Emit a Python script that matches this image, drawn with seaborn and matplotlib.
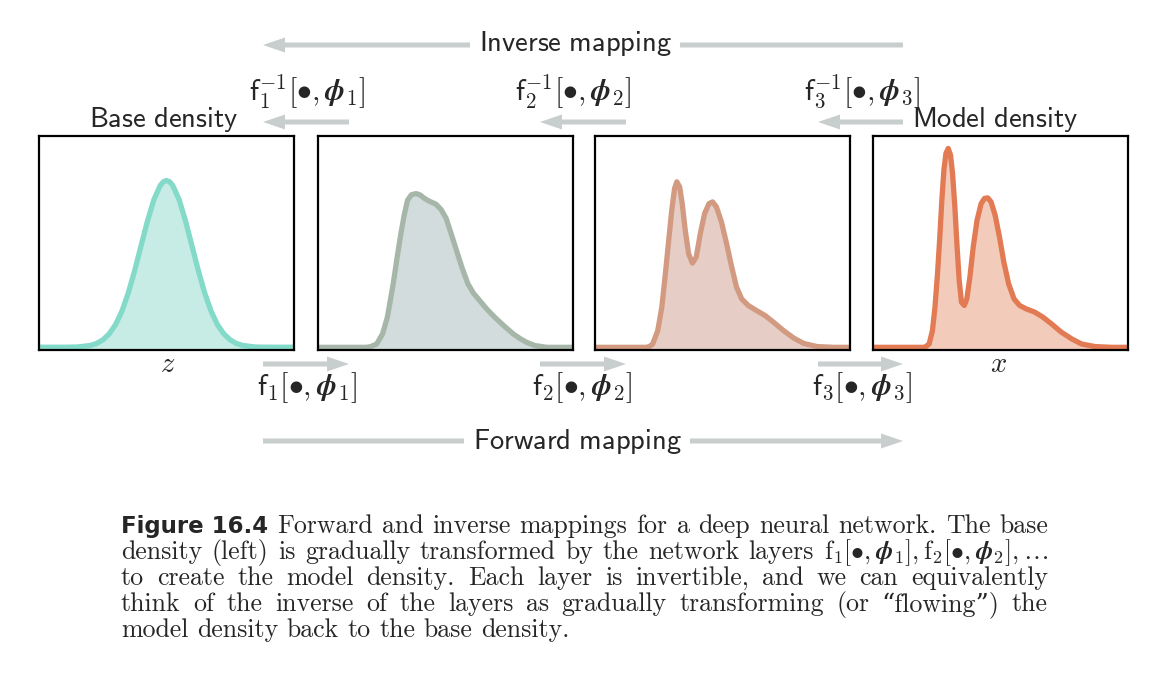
import numpy as np
import pandas as pd
import matplotlib
matplotlib.use("Agg")
import matplotlib.pyplot as plt
import seaborn as sns

# ---------------- data (panel-relative units) ----------------
base_x = [0.0, 0.1, 0.15, 0.2, 0.225, 0.25, 0.275, 0.3, 0.325, 0.35, 0.375, 0.4, 0.425, 0.45, 0.475, 0.4875,
          0.5, 0.5125, 0.525, 0.55, 0.575, 0.6, 0.625, 0.65, 0.675, 0.7, 0.725, 0.75, 0.775, 0.8, 0.85, 0.9, 1.0]
base_y = [0.013, 0.013, 0.014, 0.021, 0.030, 0.047, 0.075, 0.118, 0.181, 0.266, 0.370, 0.486, 0.601, 0.701, 0.768, 0.786,
          0.792, 0.786, 0.768, 0.701, 0.601, 0.486, 0.370, 0.266, 0.181, 0.118, 0.075, 0.047, 0.030, 0.021, 0.014, 0.013, 0.013]

layer1_x = [0.0, 0.19, 0.207, 0.23, 0.253, 0.272, 0.295, 0.31, 0.325, 0.338, 0.351, 0.366, 0.384, 0.400, 0.418,
            0.437, 0.463, 0.483, 0.503, 0.522, 0.543, 0.564, 0.588, 0.61, 0.634, 0.663, 0.693, 0.73, 0.766, 0.793,
            0.818, 0.85, 0.897, 0.95, 1.0]
layer1_y = [0.0125, 0.0125, 0.016, 0.028, 0.075, 0.153, 0.31, 0.43, 0.544, 0.63, 0.70, 0.725, 0.731, 0.725, 0.708,
            0.695, 0.681, 0.656, 0.614, 0.544, 0.466, 0.3875, 0.309, 0.265, 0.231, 0.19, 0.153, 0.112, 0.075, 0.053,
            0.036, 0.021, 0.0125, 0.0125, 0.0125]

layer2_x = [0.0, 0.2, 0.213, 0.226, 0.246, 0.262, 0.276, 0.289, 0.301, 0.312, 0.321, 0.332, 0.342, 0.354, 0.367,
            0.382, 0.397, 0.413, 0.430, 0.447, 0.461, 0.476, 0.496, 0.516, 0.536, 0.555, 0.575, 0.601, 0.634, 0.667,
            0.700, 0.739, 0.779, 0.818, 0.871, 0.937, 1.0]
layer2_y = [0.0125, 0.0125, 0.016, 0.028, 0.09, 0.20, 0.356, 0.512, 0.653, 0.755, 0.786, 0.762, 0.684, 0.559, 0.45,
            0.406, 0.434, 0.544, 0.638, 0.684, 0.692, 0.669, 0.598, 0.497, 0.388, 0.294, 0.239, 0.208, 0.184, 0.161,
            0.130, 0.091, 0.056, 0.031, 0.016, 0.0125, 0.0125]

model_x = [0.0, 0.2, 0.207, 0.220, 0.233, 0.243, 0.253, 0.262, 0.270, 0.278, 0.286, 0.295, 0.304, 0.312, 0.321,
           0.329, 0.338, 0.347, 0.358, 0.368, 0.380, 0.393, 0.408, 0.424, 0.437, 0.450, 0.463, 0.479, 0.496, 0.513,
           0.532, 0.553, 0.575, 0.601, 0.634, 0.667, 0.700, 0.739, 0.779, 0.818, 0.871, 0.937, 1.0]
model_y = [0.0125, 0.0125, 0.016, 0.028, 0.09, 0.20, 0.356, 0.528, 0.70, 0.841, 0.919, 0.942, 0.911, 0.825, 0.669,
           0.497, 0.325, 0.223, 0.208, 0.239, 0.341, 0.481, 0.606, 0.684, 0.708, 0.711, 0.692, 0.630, 0.528, 0.411,
           0.309, 0.239, 0.208, 0.192, 0.177, 0.153, 0.122, 0.083, 0.052, 0.028, 0.016, 0.0125, 0.0125]

panel_xs = [base_x, layer1_x, layer2_x, model_x]
panel_ys = [base_y, layer1_y, layer2_y, model_y]
line_colors = ["#84dac9", "#a6b7a9", "#d29a81", "#e27b54"]
fill_colors = ["#c6ece5", "#d2dcdc", "#e6cec6", "#f3cbbb"]

inv_labels = [r"$\mathsf{f}_1^{-1}[\bullet,\boldsymbol{\phi}_1]$",
              r"$\mathsf{f}_2^{-1}[\bullet,\boldsymbol{\phi}_2]$",
              r"$\mathsf{f}_3^{-1}[\bullet,\boldsymbol{\phi}_3]$"]
fwd_labels = [r"$\mathsf{f}_1[\bullet,\boldsymbol{\phi}_1]$",
              r"$\mathsf{f}_2[\bullet,\boldsymbol{\phi}_2]$",
              r"$\mathsf{f}_3[\bullet,\boldsymbol{\phi}_3]$"]

caption_lines = [
    [("Figure 16.4", True), "Forward", "and", "inverse", "mappings", "for", "a", "deep", "neural",
     "network.", "The", "base"],
    ["density", "(left)", "is", "gradually", "transformed", "by", "the", "network", "layers",
     r"$\mathrm{f}_1[\bullet,\boldsymbol{\phi}_1],\mathrm{f}_2[\bullet,\boldsymbol{\phi}_2],\ldots$"],
    ["to", "create", "the", "model", "density.", "Each", "layer", "is", "invertible,", "and", "we", "can",
     "equivalently"],
    ["think", "of", "the", "inverse", "of", "the", "layers", "as", "gradually", "transforming", "(or",
     "\u201cflowing\u201d)", "the"],
    ["model", "density", "back", "to", "the", "base", "density."],
]

# ---------------- figure ----------------
sns.set_theme(style="white")
plt.rcParams["mathtext.fontset"] = "cm"
plt.rcParams["font.family"] = ["DejaVu Sans"]

W, H = 1166, 682
fig = plt.figure(figsize=(W / 100, H / 100), dpi=100)
fig.patch.set_facecolor("white")

# overlay in pixel coordinates for arrows / annotations
ov = fig.add_axes([0, 0, 1, 1])
ov.set_xlim(0, W)
ov.set_ylim(H, 0)
ov.axis("off")

panel_left = [39, 318, 595, 873]
panel_w = 255
panel_top, panel_bot = 136, 350

for i in range(4):
    ax = fig.add_axes([panel_left[i] / W, 1 - panel_bot / H, panel_w / W, (panel_bot - panel_top) / H])
    df = pd.DataFrame({"x": panel_xs[i], "y": panel_ys[i]})
    ax.fill_between(df["x"], 0, df["y"], color=fill_colors[i], lw=0, zorder=1)
    sns.lineplot(data=df, x="x", y="y", ax=ax, color=line_colors[i], lw=3.8, zorder=2,
                 solid_joinstyle="round", solid_capstyle="butt")
    ax.set_xlim(0, 1)
    ax.set_ylim(0, 1)
    ax.set_xticks([])
    ax.set_yticks([])
    ax.set_xlabel("")
    ax.set_ylabel("")
    ax.set_facecolor("white")
    for s in ax.spines.values():
        s.set_visible(True)
        s.set_color("black")
        s.set_linewidth(1.6)
        s.set_zorder(5)

arrow_c = "#c8cecd"


def arrow(x0, x1, y):
    ov.arrow(x0, y, x1 - x0, 0, width=5, head_width=15, head_length=22,
             length_includes_head=True, color=arrow_c, lw=0)


# long arrows
arrow(903, 263, 45)
arrow(263, 903, 441)
# short arrows
for xa, xb in [(263, 349), (540, 626), (818, 903)]:
    arrow(xb, xa, 122)
    arrow(xa, xb, 364)

lab_fs = 20.5
math_fs = 21.5
ov.text(575, 44, r"$\mathsf{Inverse\ mapping}$", ha="center", va="center", fontsize=lab_fs,
        bbox=dict(facecolor="white", edgecolor="none", pad=6))
ov.text(577, 441, r"$\mathsf{Forward\ mapping}$", ha="center", va="center", fontsize=lab_fs,
        bbox=dict(facecolor="white", edgecolor="none", pad=6))
ov.text(164, 120, r"$\mathsf{Base\ density}$", ha="center", va="center", fontsize=lab_fs)
ov.text(995, 120, r"$\mathsf{Model\ density}$", ha="center", va="center", fontsize=lab_fs)

for xc, lab in zip([307, 573, 862], inv_labels):
    ov.text(xc, 92, lab, ha="center", va="center", fontsize=math_fs)
for xc, lab in zip([307, 582, 862], fwd_labels):
    ov.text(xc, 388, lab, ha="center", va="center", fontsize=math_fs)

ov.text(168, 364, r"$z$", ha="center", va="center", fontsize=lab_fs)
ov.text(999, 364, r"$x$", ha="center", va="center", fontsize=lab_fs)

# ---------------- caption with manual justification ----------------
cap_fs = 18.6
cap_x0, cap_x1 = 121, 1048
baselines = [533, 559, 585, 611, 637]
renderer = fig.canvas.get_renderer()
space_px = 0.333 * cap_fs * 100 / 72

for li, (tokens, yb) in enumerate(zip(caption_lines, baselines)):
    arts = []
    for tok in tokens:
        if isinstance(tok, tuple):
            t = ov.text(0, yb, tok[0], ha="left", va="baseline", fontsize=16.5, fontweight="bold",
                        family=["DejaVu Sans"])
        else:
            t = ov.text(0, yb, tok, ha="left", va="baseline", fontsize=cap_fs,
                        family=["cmr10", "DejaVu Serif"])
        arts.append(t)
    widths = [a.get_window_extent(renderer=renderer).width for a in arts]
    justify = li < len(caption_lines) - 1
    if justify and len(arts) > 1:
        gap = (cap_x1 - cap_x0 - sum(widths)) / (len(arts) - 1)
    else:
        gap = space_px
    x = cap_x0
    for a, w in zip(arts, widths):
        a.set_x(x)
        x += w + gap

fig.savefig("out.png", dpi=100, facecolor="white")
